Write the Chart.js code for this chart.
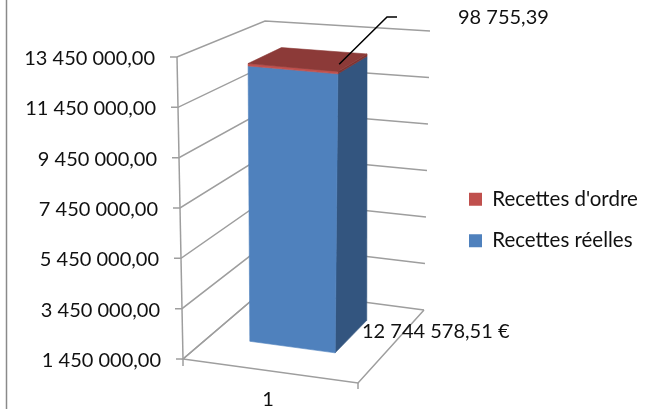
<!DOCTYPE html>
<html><head><meta charset="utf-8">
<style>html,body{margin:0;padding:0;background:#fff}canvas{display:block}</style>
<script src="https://cdn.jsdelivr.net/npm/chart.js@4"></script>
</head><body>
<canvas id="c" width="651" height="409"></canvas>
<script>
const categories = ['1'];
const seriesNames = ["Recettes réelles", "Recettes d'ordre"];
const recettesReelles = [12744578.51];
const recettesOrdre = [98755.39];
const yTicks = [1450000, 3450000, 5450000, 7450000, 9450000, 11450000, 13450000];
const labelSuffixes = [' €', ''];

const FONT = 'Lato';
const fr = v => { const [a, b] = v.toFixed(2).split('.'); return a.replace(/\B(?=(\d{3})+$)/g, ' ') + ',' + b; };

/* 3D box of the plot: floor and ceiling corners (front-left, front-right, back-left, back-right) */
const floorC = [[183, 359], [358, 383], [265, 289], [424, 310]];
const ceilC  = [[177, 57], [363, 75], [265, 21], [430, 31]];
const bil = (c, u, w) => [0, 1].map(i =>
  c[0][i] * (1 - u) * (1 - w) + c[1][i] * u * (1 - w) + c[2][i] * (1 - u) * w + c[3][i] * u * w);
const P = (u, w, t) => { const a = bil(floorC, u, w), b = bil(ceilC, u, w); return [a[0] + (b[0] - a[0]) * t, a[1] + (b[1] - a[1]) * t]; };
const poly = (ctx, pts, fill) => {
  ctx.beginPath(); pts.forEach((p, i) => i ? ctx.lineTo(p[0], p[1]) : ctx.moveTo(p[0], p[1])); ctx.closePath();
  ctx.fillStyle = fill; ctx.fill(); ctx.strokeStyle = fill; ctx.lineWidth = 0.6; ctx.stroke();
};
const line = (ctx, pts, col, lw) => {
  ctx.beginPath(); pts.forEach((p, i) => i ? ctx.lineTo(p[0], p[1]) : ctx.moveTo(p[0], p[1]));
  ctx.strokeStyle = col; ctx.lineWidth = lw; ctx.stroke();
};
const GRID = '#9e9e9e';
const sideCol = ['#33557f', '#7f3331'], topCol = ['#33557f', '#8c3a38'];
const W0 = 0.33, W1 = t => 0.78 - 0.05 * t;

const box3d = {
  id: 'box3d',
  beforeDraw(chart) {
    const y = chart.scales.y, area = chart.chartArea, ctx = chart.ctx;
    ctx.save();
    line(ctx, [[6.5, 0], [6.5, 409]], '#8a8a8a', 1.5);
    ctx.restore();
    // labels follow the slanted front axis
    y.getLabelItems(area).forEach((it, i) => {
      const py = y.getPixelForValue(y.ticks[i].value);
      const t = (area.bottom - py) / area.height;
      it.options.translation[0] = 161 - 6 * t;
      it.options.translation[1] = py + 1.5;
    });
  },
  beforeDatasetsDraw(chart) {
    const ctx = chart.ctx, y = chart.scales.y, area = chart.chartArea;
    ctx.save();
    y.ticks.forEach(tk => {
      const t = (area.bottom - y.getPixelForValue(tk.value)) / area.height;
      const f = P(0, 0, t);
      line(ctx, [[f[0] - 7, f[1]], f, P(0, 1, t), P(1, 1, t)], GRID, 1.5);
    });
    line(ctx, [P(0, 0, 1), P(0, 0, 0)], GRID, 1.5);
    const fl = P(0, 0, 0), fr0 = P(1, 0, 0);
    line(ctx, [P(0, 1, 0), fl, fr0, P(1, 1, 0)], GRID, 1.5);
    line(ctx, [fl, [fl[0], fl[1] + 7]], GRID, 1.5);
    line(ctx, [fr0, [fr0[0], fr0[1] + 6]], GRID, 1.5);
    ctx.restore();
  },
  beforeDatasetDraw() { return false; },
  afterDatasetsDraw(chart) {
    const ctx = chart.ctx, area = chart.chartArea;
    const clampT = p => Math.min(1, Math.max(0, (area.bottom - p) / area.height));
    const X0 = floorC[0][0], XW = floorC[1][0] - floorC[0][0];
    ctx.save();
    let last = null;
    chart.data.datasets.forEach((ds, i) => {
      const b = chart.getDatasetMeta(i).data[0];
      const u0 = (b.x - b.width / 2 - X0) / XW, u1 = (b.x + b.width / 2 - X0) / XW;
      const t0 = clampT(b.base), t1 = clampT(b.y);
      poly(ctx, [P(u1, W0, t0), P(u1, W1(t0), t0), P(u1, W1(t1), t1), P(u1, W0, t1)], sideCol[i]);
      poly(ctx, [P(u0, W0, t0), P(u1, W0, t0), P(u1, W0, t1), P(u0, W0, t1)], ds.backgroundColor);
      last = { u0, u1, t1, i };
    });
    const wb = W1(last.t1);
    poly(ctx, [P(last.u0, W0, last.t1), P(last.u1, W0, last.t1), P(last.u1, wb, last.t1), P(last.u0, wb, last.t1)], topCol[last.i]);
    // leader line and data labels
    const s = P(last.u1 - 0.053, W0 + 0.146, last.t1);
    line(ctx, [s, [387, 17], [397, 17]], '#000', 1.5);
    ctx.fillStyle = '#111';
    ctx.font = '20px ' + FONT;
    ctx.textBaseline = 'middle'; ctx.textAlign = 'left';
    ctx.fillText(fr(recettesOrdre[0]) + labelSuffixes[1], 458, 18);
    ctx.fillText(fr(recettesReelles[0]) + labelSuffixes[0], 362, 332);
    ctx.restore();
  },
  afterLayout(chart) {
    const l = chart.legend;
    const w = 200, h = 160;
    l.left = 448; l.right = l.left + w; l.top = 168; l.bottom = l.top + h;
    l.width = w; l.height = h;
  }
};

new Chart(document.getElementById('c'), {
  type: 'bar',
  data: {
    labels: categories,
    datasets: [
      { label: seriesNames[0], data: recettesReelles, backgroundColor: '#4F81BD', borderWidth: 0 },
      { label: seriesNames[1], data: recettesOrdre, backgroundColor: '#C0504D', borderWidth: 0 }
    ]
  },
  options: {
    responsive: false, animation: false, devicePixelRatio: 1,
    layout: { padding: { top: 57, right: 295, left: 0, bottom: 0 } },
    datasets: { bar: { barPercentage: 0.5, categoryPercentage: 1 } },
    scales: {
      x: {
        stacked: true,
        grid: { display: false, drawTicks: false }, border: { display: false },
        ticks: { padding: 29, color: '#111', font: { family: FONT, size: 20 } },
        afterFit(s) { s.height = 50; }
      },
      y: {
        stacked: true, min: 1450000, max: 13450000,
        grid: { display: false, drawTicks: false }, border: { display: false },
        afterBuildTicks(s) { s.ticks = yTicks.map(value => ({ value })); },
        ticks: { autoSkip: false, padding: 25, color: '#111', font: { family: FONT, size: 20 }, callback: v => fr(v) },
        afterFit(s) { s.width = 180; }
      }
    },
    plugins: {
      tooltip: { enabled: false },
      title: { display: false },
      legend: {
        position: 'chartArea', align: 'start', reverse: true,
        labels: { boxWidth: 13, boxHeight: 13, padding: 21, color: '#111', font: { family: FONT, size: 20.5 } }
      }
    }
  },
  plugins: [box3d]
});
</script>
</body></html>
